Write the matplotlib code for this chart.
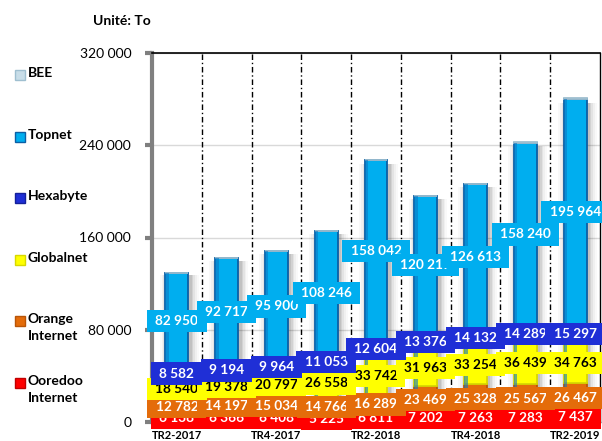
import matplotlib
matplotlib.use("Agg")
import matplotlib.pyplot as plt
from matplotlib.patches import Rectangle
import numpy as np

plt.rcParams['font.family'] = ['Lato', 'DejaVu Sans']

categories = ["TR2-2017", "TR3-2017", "TR4-2017", "TR1-2018", "TR2-2018",
              "TR3-2018", "TR4-2018", "TR1-2019", "TR2-2019"]
ooredoo = [6138, 6366, 6408, 5225, 6811, 7202, 7263, 7283, 7437]
orange = [12782, 14197, 15034, 14766, 16289, 23469, 25328, 25567, 26467]
globalnet = [18540, 19378, 20797, 26558, 33742, 31963, 33254, 36439, 34763]
hexabyte = [8582, 9194, 9964, 11053, 12604, 13376, 14132, 14289, 15297]
topnet = [82950, 92717, 95900, 108246, 158042, 120217, 126613, 158240, 195964]
bee = [0, 0, 0, 0, 0, 0, 0, 900, 1000]

series_names = ["Ooredoo\nInternet", "Orange\nInternet", "Globalnet", "Hexabyte", "Topnet", "BEE"]
series_vals = [ooredoo, orange, globalnet, hexabyte, topnet, bee]
bar_colors = ["#FF0000", "#E46C0A", "#FFFF00", "#1F2FD6", "#00AEEF", "#C8DDE8"]
edge_colors = ["#C00000", "#B85508", "#D8D800", "#14209A", "#0B5FA5", "#9FBFD0"]
label_text_colors = ["white", "white", "black", "white", "white", None]

W, H = 602, 441
fig = plt.figure(figsize=(W / 100, H / 100), dpi=100)
x0, x1, ytop, ybot = 152, 600, 53.3, 421.7
ax = fig.add_axes([x0 / W, 1 - ybot / H, (x1 - x0) / W, (ybot - ytop) / H])

x = np.arange(len(categories))
ax.set_xlim(-0.5, len(categories) - 0.5)
ax.set_ylim(0, 320000)

totals = np.sum(np.array(series_vals), axis=0)

# soft shadow behind bars
for w, a in [(0.78, 0.025), (0.70, 0.035), (0.63, 0.05), (0.56, 0.07), (0.51, 0.08)]:
    ax.bar(x + 0.045, totals * 0.985, width=w, color="#000000", alpha=a,
           linewidth=0, zorder=1)

bottom = np.zeros(len(categories))
bw = 0.46
for vals, c, ec in zip(series_vals, bar_colors, edge_colors):
    v = np.array(vals, dtype=float)
    ax.bar(x, v, width=bw, bottom=bottom, color=c, edgecolor=ec,
           linewidth=1.3, zorder=2)
    bottom += v

# darker left strip on bars (3D look)
ax.bar(x - bw / 2 + 0.035, totals - np.array(bee), width=0.07, color="#0D77C2",
       linewidth=0, zorder=2.1, alpha=0.6)

# data labels
bottom = np.zeros(len(categories))
for si, (vals, c, tc) in enumerate(zip(series_vals, bar_colors, label_text_colors)):
    v = np.array(vals, dtype=float)
    if tc is not None:
        for i in range(len(categories)):
            ax.text(x[i], bottom[i] + v[i] / 2, f"{vals[i]:,}".replace(",", " "),
                    ha="center", va="center", fontsize=9.8, fontweight="bold",
                    color=tc, zorder=3 + si * 0.1 + i * 0.001, clip_on=False,
                    bbox=dict(boxstyle="square,pad=0.6", mutation_aspect=0.63,
                              facecolor=c, edgecolor="none"))
    bottom += v

# grid and separators
ax.yaxis.grid(True, color="#D9D9D9", linewidth=1.0, zorder=0)
ax.set_axisbelow(True)
for b in np.arange(0.5, len(categories) - 0.5, 1):
    ax.axvline(b, color="black", linestyle=(0, (4, 2, 1, 2)), linewidth=1.0,
               zorder=1.5)

ax.set_yticks([0, 80000, 160000, 240000, 320000])
ax.set_yticklabels([f"{t:,}".replace(",", " ") for t in [0, 80000, 160000, 240000, 320000]],
                   fontsize=10)
ax.set_xticks(x)
ax.set_xticklabels([c if i % 2 == 0 else "" for i, c in enumerate(categories)],
                   fontsize=8, fontweight="bold")
ax.tick_params(axis="x", length=0, pad=6)
ax.tick_params(axis="y", length=5, width=3, color="#7F7F7F", pad=10)

ax.spines["left"].set_color("#808080")
ax.spines["left"].set_linewidth(3)
ax.spines["top"].set_color("black")
ax.spines["top"].set_linewidth(1.2)
ax.spines["right"].set_color("black")
ax.spines["right"].set_linewidth(1.0)
ax.spines["bottom"].set_color("black")
ax.spines["bottom"].set_linewidth(1.0)

# title
fig.text(122 / W, 1 - 21 / H, "Unité: To", ha="center", va="center",
         fontsize=10, fontweight="bold")

# manual legend (left column)
legend_order = [5, 4, 3, 2, 1, 0]
legend_y = [75, 136.7, 198, 260, 321, 383]
for idx, yc in zip(legend_order, legend_y):
    fig.patches.append(Rectangle((15 / W, 1 - (yc + 5) / H), 10 / W, 10 / H,
                                 transform=fig.transFigure, facecolor=bar_colors[idx],
                                 edgecolor=edge_colors[idx], linewidth=1.0))
    fig.text(28 / W, 1 - (yc - 8) / H, series_names[idx], ha="left", va="top",
             fontsize=10, fontweight="bold", linespacing=1.45)

fig.savefig("out.png", dpi=100)
